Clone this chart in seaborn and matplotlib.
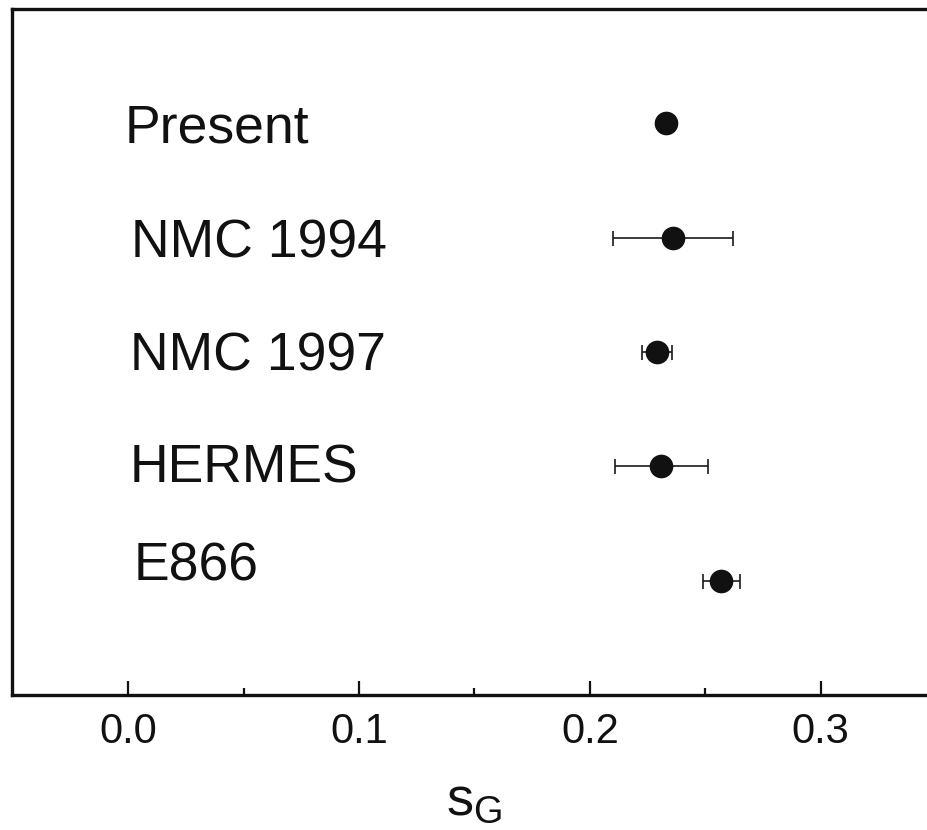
import matplotlib
matplotlib.use("Agg")
import matplotlib.pyplot as plt
import seaborn as sns
import numpy as np

# ---- data ----
experiments = ["Present", "NMC 1994", "NMC 1997", "HERMES", "E866"]
s_g = [0.233, 0.236, 0.229, 0.231, 0.257]
s_g_err = [0.0, 0.026, 0.0064, 0.020, 0.008]
row_index = [5, 4, 3, 2, 1]
x_ticks = [0.0, 0.1, 0.2, 0.3]
x_tick_labels = ["0.0", "0.1", "0.2", "0.3"]
x_minor_ticks = [0.05, 0.15, 0.25]

# ---- style ----
sns.set_style("white")
plt.rcParams["font.family"] = ["Liberation Sans", "DejaVu Sans"]
plt.rcParams["mathtext.default"] = "regular"

fig = plt.figure(figsize=(9.28, 8.30), dpi=100)
ax = fig.add_axes([12 / 928, 135 / 830, 924 / 928, 686 / 830])

ink = "#111111"
ax.errorbar(s_g, row_index, xerr=s_g_err, fmt="none", ecolor="#1a1a1a",
            elinewidth=1.2, capsize=5.4, capthick=1.2, zorder=2)
sns.scatterplot(x=s_g, y=row_index, ax=ax, s=290, color=ink,
                edgecolor=ink, linewidth=0, zorder=3, legend=False)

# labels inside plot (offsets in points are layout only)
label_dy = [-13.5, -14.5, -13.0, -11.5, 0.0]
label_dx = [-3.0, 2.0, 1.5, 1.0, 3.5]
for name, yv, dx, dy in zip(experiments, row_index, label_dx, label_dy):
    ax.annotate(name, xy=(0.0, yv), xytext=(dx, dy), textcoords="offset points",
                ha="left", va="baseline", fontsize=38.5, color=ink)

ax.set_xlim(-0.0504, 0.35)
ax.set_ylim(0, 6)
ax.set_xticks(x_ticks)
ax.set_xticklabels(x_tick_labels)
ax.set_xticks(x_minor_ticks, minor=True)
ax.set_yticks([])
ax.tick_params(axis="x", which="major", direction="in", length=10, width=1.6,
               color=ink, labelsize=30, pad=12, labelcolor=ink, bottom=True)
ax.tick_params(axis="x", which="minor", direction="in", length=5, width=1.6,
               color=ink, bottom=True)
ax.set_ylabel("")
ax.set_xlabel(r"$\mathregular{s_G}$", fontsize=39, color=ink, labelpad=17)

for side in ["left", "bottom", "top"]:
    ax.spines[side].set_visible(True)
    ax.spines[side].set_linewidth(2.4)
    ax.spines[side].set_color(ink)
ax.spines["right"].set_visible(False)

fig.savefig("out.png", dpi=100)
